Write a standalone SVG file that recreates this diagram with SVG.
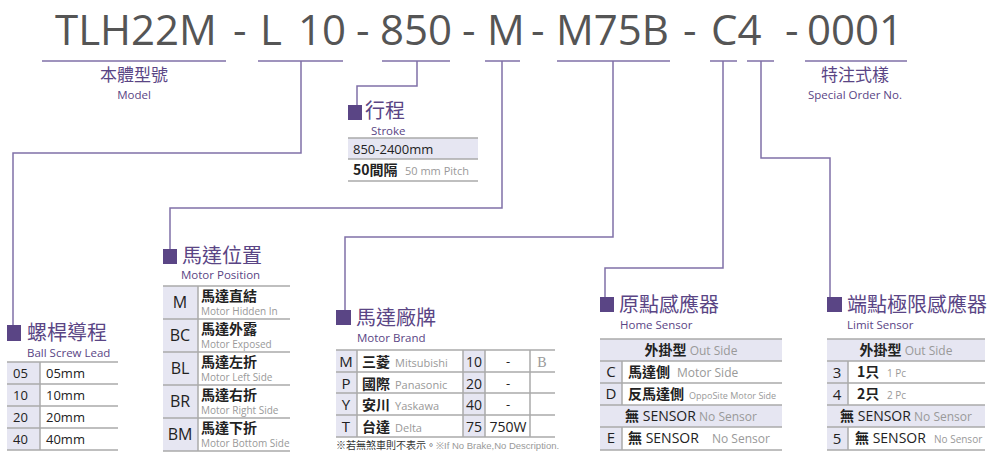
<svg xmlns="http://www.w3.org/2000/svg" width="1000" height="452" viewBox="0 0 1000 452">
<style>
.t{font-family:"Open Sans","Noto Sans","Noto Sans CJK TC",sans-serif;fill:#555;font-size:42px}
.h{font-family:"Noto Sans CJK TC","Noto Sans",sans-serif;fill:#5a4585;font-size:20px}
.hs{font-family:"Open Sans","Noto Sans",sans-serif;fill:#5a4585;font-size:11.5px}
.sq{fill:#5a4585}
.c{font-family:"Open Sans","Noto Sans","Noto Sans CJK TC",sans-serif;fill:#222;font-size:13px}
.cz{font-family:"Noto Sans CJK TC",sans-serif;fill:#222;font-size:14px;font-weight:bold}
.g{font-family:"Open Sans","Noto Sans",sans-serif;fill:#999;font-size:11px}
.fill{fill:#e6e6f2}
.ln{stroke:#aaa;stroke-width:1.5;fill:none}
.con{stroke:#8070a8;stroke-width:1.5;fill:none}
</style>
<rect width="1000" height="452" fill="#fff"/>
<g id="title">
<text class="t" x="55" y="45">TLH22M</text><text class="t" x="233" y="45">-</text><text class="t" x="260" y="45">L</text><text class="t" x="298" y="45">10</text><text class="t" x="356" y="45">-</text><text class="t" x="380" y="45">850</text><text class="t" x="462" y="45">-</text><text class="t" x="487" y="45">M</text><text class="t" x="531" y="45">-</text><text class="t" x="556" y="45">M75B</text><text class="t" x="683" y="45">-</text><text class="t" x="711" y="45">C4</text><text class="t" x="785" y="45">-</text><text class="t" x="807" y="45">0001</text>
</g>
<g id="connectors" class="con">
<path d="M42 61H226M258 61H343M382 61H450M485 61H520M557 61H670M710 61H737M747 61H774M805 61H907"/>
<path d="M301 61V153H13V328"/>
<path d="M417 61V86H357V108"/>
<path d="M502 61V208H170V252"/>
<path d="M613 61V237H345V312"/>
<path d="M723 61V268H605V300"/>
<path d="M761 61V158H830V300"/>
</g>
<g id="model">
<text class="h" x="134" y="81" text-anchor="middle" style="font-size:17px">本體型號</text>
<text class="hs" x="134" y="99" text-anchor="middle">Model</text>
</g>
<g id="special">
<text class="h" x="855" y="81" text-anchor="middle" style="font-size:17px">特注式樣</text>
<text class="hs" x="855" y="99" text-anchor="middle">Special Order No.</text>
</g>
<g id="stroke">
<rect class="sq" x="348" y="105" width="14" height="15"/>
<text class="h" x="365" y="118">行程</text>
<text class="hs" x="371" y="135">Stroke</text>
<rect class="fill" x="348" y="138" width="130" height="21"/>
<path class="ln" d="M348 138H478M348 159H478M348 181H478"/>
<text class="c" x="353" y="154">850-2400mm</text>
<text class="cz" x="353" y="175">50間隔</text><text class="g" x="405" y="175">50 mm Pitch</text>
</g>
<g id="lead">
<rect class="sq" x="7" y="325" width="14" height="16"/>
<text class="h" x="27" y="340">螺桿導程</text>
<text class="hs" x="27" y="357">Ball Screw Lead</text>
<rect class="fill" x="7" y="362" width="33" height="88"/>
<path class="ln" d="M7 362H118M7 384H118M7 406H118M7 428H118M7 450H118M40 362V450"/>
<text class="c" x="13" y="378">05</text><text class="c" x="46" y="378">05mm</text>
<text class="c" x="13" y="400">10</text><text class="c" x="46" y="400">10mm</text>
<text class="c" x="13" y="422">20</text><text class="c" x="46" y="422">20mm</text>
<text class="c" x="13" y="444">40</text><text class="c" x="46" y="444">40mm</text>
</g>
<g id="position">
<rect class="sq" x="163" y="249" width="14" height="15"/>
<text class="h" x="182" y="263">馬達位置</text>
<text class="hs" x="181" y="279">Motor Position</text>
<rect class="fill" x="163" y="286" width="35" height="165"/>
<path class="ln" d="M163 286H290M163 319H290M163 352H290M163 385H290M163 418H290M163 451H290M198 286V451"/>
<text x="180" y="308" class="c" style="font-size:16px" text-anchor="middle">M</text><text x="180" y="341" class="c" style="font-size:16px" text-anchor="middle">BC</text><text x="180" y="374" class="c" style="font-size:16px" text-anchor="middle">BL</text><text x="180" y="407" class="c" style="font-size:16px" text-anchor="middle">BR</text><text x="180" y="440" class="c" style="font-size:16px" text-anchor="middle">BM</text>
<text class="cz" x="201" y="301">馬達直結</text><text class="g" x="201" y="315" style="font-size:10px">Motor Hidden In</text>
<text class="cz" x="201" y="334">馬達外露</text><text class="g" x="201" y="348" style="font-size:10px">Motor Exposed</text>
<text class="cz" x="201" y="367">馬達左折</text><text class="g" x="201" y="381" style="font-size:10px">Motor Left Side</text>
<text class="cz" x="201" y="400">馬達右折</text><text class="g" x="201" y="414" style="font-size:10px">Motor Right Side</text>
<text class="cz" x="201" y="433">馬達下折</text><text class="g" x="201" y="447" style="font-size:10px">Motor Bottom Side</text>
</g>
<g id="brand">
<rect class="sq" x="336" y="310" width="15" height="15"/>
<text class="h" x="356" y="325">馬達廠牌</text>
<text class="hs" x="357" y="342">Motor Brand</text>
<rect class="fill" x="336" y="350" width="21" height="87"/>
<rect class="fill" x="463" y="350" width="22" height="87"/>
<path class="ln" d="M336 350H555M336 372H555M336 393H555M336 415H555M336 437H555M357 350V437M463 350V437M485 350V437M530 350V437"/>
<text class="c" x="346" y="367" style="font-size:15px" text-anchor="middle">M</text><text class="c" x="346" y="389" style="font-size:15px" text-anchor="middle">P</text><text class="c" x="346" y="410" style="font-size:15px" text-anchor="middle">Y</text><text class="c" x="346" y="432" style="font-size:15px" text-anchor="middle">T</text>
<text class="cz" x="362" y="367">三菱</text><text class="g" x="395" y="367">Mitsubishi</text>
<text class="cz" x="362" y="389">國際</text><text class="g" x="395" y="389">Panasonic</text>
<text class="cz" x="362" y="410">安川</text><text class="g" x="395" y="410">Yaskawa</text>
<text class="cz" x="362" y="432">台達</text><text class="g" x="395" y="432">Delta</text>
<text class="c" x="466" y="367" style="font-size:14px">10</text><text class="c" x="466" y="389" style="font-size:14px">20</text><text class="c" x="466" y="410" style="font-size:14px">40</text><text class="c" x="466" y="432" style="font-size:14px">75</text>
<text class="c" x="508" y="366" text-anchor="middle">-</text><text class="c" x="508" y="388" text-anchor="middle">-</text><text class="c" x="508" y="409" text-anchor="middle">-</text><text class="c" x="508" y="432" text-anchor="middle" style="font-size:14px">750W</text>
<text x="542" y="367" text-anchor="middle" font-family="Liberation Serif,serif" font-size="14" fill="#999">B</text>
<text x="336" y="449" font-family="Noto Sans CJK TC,sans-serif" font-size="10" fill="#333">※若無煞車則不表示。<tspan font-family="Liberation Sans,sans-serif" fill="#999" font-size="9.5">※If No Brake,No Description.</tspan></text>
</g>
<g id="home">
<rect class="sq" x="600" y="297" width="14" height="15"/>
<text class="h" x="619" y="312">原點感應器</text>
<text class="hs" x="620" y="329">Home Sensor</text>
<rect class="fill" x="600" y="339" width="182" height="22"/>
<rect class="fill" x="600" y="405" width="182" height="22"/>
<rect class="fill" x="600" y="361" width="22" height="44"/>
<rect class="fill" x="600" y="427" width="22" height="23"/>
<path class="ln" d="M600 339H782M600 361H782M600 383H782M600 405H782M600 427H782M600 450H782M622 361V405M622 427V450"/>
<text x="691" y="355" text-anchor="middle"><tspan class="cz">外掛型</tspan><tspan class="g" style="font-size:12px"> Out Side</tspan></text>
<text class="c" x="611" y="377" style="font-size:15px" text-anchor="middle">C</text><text class="c" x="611" y="399" style="font-size:15px" text-anchor="middle">D</text><text class="c" x="611" y="443" style="font-size:15px" text-anchor="middle">E</text>
<text class="cz" x="628" y="377">馬達側</text><text class="g" x="677" y="377" style="font-size:12px">Motor Side</text>
<text class="cz" x="628" y="399">反馬達側</text><text class="g" x="689" y="399" style="font-size:9px">OppoSite Motor Side</text>
<text x="691" y="421" text-anchor="middle"><tspan class="cz">無</tspan><tspan class="c" style="font-size:14px"> SENSOR</tspan><tspan class="g" style="font-size:12px">   No Sensor</tspan></text>
<text x="628" y="443"><tspan class="cz">無</tspan><tspan class="c" style="font-size:14px"> SENSOR</tspan></text><text class="g" x="712" y="443" style="font-size:12px">No Sensor</text>
</g>
<g id="limit">
<rect class="sq" x="827" y="297" width="15" height="15"/>
<text class="h" x="847" y="312">端點極限感應器</text>
<text class="hs" x="847" y="329">Limit Sensor</text>
<rect class="fill" x="827" y="339" width="158" height="22"/>
<rect class="fill" x="827" y="405" width="158" height="22"/>
<rect class="fill" x="827" y="361" width="21" height="44"/>
<rect class="fill" x="827" y="427" width="21" height="23"/>
<path class="ln" d="M827 339H985M827 361H985M827 383H985M827 405H985M827 427H985M827 450H985M848 361V405M848 427V450"/>
<text x="906" y="355" text-anchor="middle"><tspan class="cz">外掛型</tspan><tspan class="g" style="font-size:12px"> Out Side</tspan></text>
<text class="c" x="837" y="378" style="font-size:15px" text-anchor="middle">3</text><text class="c" x="837" y="400" style="font-size:15px" text-anchor="middle">4</text><text class="c" x="837" y="444" style="font-size:15px" text-anchor="middle">5</text>
<text class="cz" x="857" y="377">1只</text><text class="g" x="887" y="377" style="font-size:10px">1 Pc</text>
<text class="cz" x="857" y="399">2只</text><text class="g" x="887" y="399" style="font-size:10px">2 Pc</text>
<text x="906" y="421" text-anchor="middle"><tspan class="cz">無</tspan><tspan class="c" style="font-size:14px"> SENSOR</tspan><tspan class="g" style="font-size:12px">  No Sensor</tspan></text>
<text x="855" y="443"><tspan class="cz">無</tspan><tspan class="c" style="font-size:14px"> SENSOR</tspan></text><text class="g" x="934" y="443" style="font-size:10px">No Sensor</text>
</g>
</svg>
